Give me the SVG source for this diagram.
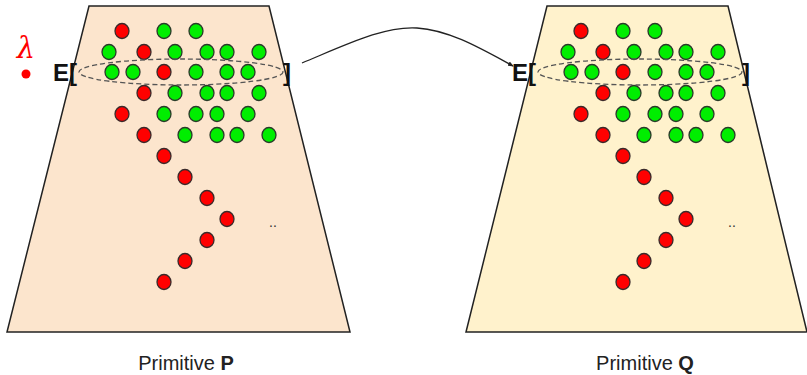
<svg xmlns="http://www.w3.org/2000/svg" width="807" height="375" viewBox="0 0 807 375">
  <style>
    .trap { stroke: #222; stroke-width: 1.5; }
    .r { fill: #ff0000; stroke: #3a2a2a; stroke-width: 1.3; }
    .g { fill: #00ee00; stroke: #2a3a2a; stroke-width: 1.3; }
    .ring { fill: none; stroke: #555; stroke-width: 1.3; stroke-dasharray: 5 3; }
    .br { font-family: "Liberation Sans", Arial, sans-serif; font-weight: bold; font-size: 24px; fill: #111; }
    .lbl { font-family: "Liberation Sans", Arial, sans-serif; font-size: 20px; fill: #222; }
    .dots { font-family: "Liberation Sans", Arial, sans-serif; font-size: 14px; fill: #333; }
  </style>
  <defs>
    <marker id="arr" markerWidth="6" markerHeight="6" refX="5" refY="3" orient="auto" markerUnits="userSpaceOnUse">
      <path d="M0,0.5 L6,3 L0,5.5 z" fill="#222"/>
    </marker>
    <g id="pattern">
      <!-- rows of samples -->
      <ellipse class="r" cx="122" cy="31" rx="7" ry="7.5"/>
      <ellipse class="g" cx="164" cy="31" rx="7" ry="7.5"/>
      <ellipse class="g" cx="196" cy="31" rx="7" ry="7.5"/>

      <ellipse class="g" cx="109" cy="52" rx="7" ry="7.5"/>
      <ellipse class="r" cx="144" cy="52" rx="7" ry="7.5"/>
      <ellipse class="g" cx="175" cy="52" rx="7" ry="7.5"/>
      <ellipse class="g" cx="207" cy="52" rx="7" ry="7.5"/>
      <ellipse class="g" cx="227" cy="52" rx="7" ry="7.5"/>
      <ellipse class="g" cx="259" cy="52" rx="7" ry="7.5"/>

      <ellipse class="g" cx="112" cy="72" rx="7" ry="7.5"/>
      <ellipse class="g" cx="133" cy="72" rx="7" ry="7.5"/>
      <ellipse class="r" cx="164" cy="72" rx="7" ry="7.5"/>
      <ellipse class="g" cx="196" cy="72" rx="7" ry="7.5"/>
      <ellipse class="g" cx="227" cy="72" rx="7" ry="7.5"/>
      <ellipse class="g" cx="248" cy="72" rx="7" ry="7.5"/>

      <ellipse class="r" cx="144" cy="93" rx="7" ry="7.5"/>
      <ellipse class="g" cx="175" cy="93" rx="7" ry="7.5"/>
      <ellipse class="g" cx="207" cy="93" rx="7" ry="7.5"/>
      <ellipse class="g" cx="227" cy="93" rx="7" ry="7.5"/>
      <ellipse class="g" cx="259" cy="93" rx="7" ry="7.5"/>

      <ellipse class="r" cx="122" cy="114" rx="7" ry="7.5"/>
      <ellipse class="g" cx="164" cy="114" rx="7" ry="7.5"/>
      <ellipse class="g" cx="196" cy="114" rx="7" ry="7.5"/>
      <ellipse class="g" cx="217" cy="114" rx="7" ry="7.5"/>
      <ellipse class="g" cx="248" cy="114" rx="7" ry="7.5"/>

      <ellipse class="r" cx="144" cy="135" rx="7" ry="7.5"/>
      <ellipse class="g" cx="185" cy="135" rx="7" ry="7.5"/>
      <ellipse class="g" cx="217" cy="135" rx="7" ry="7.5"/>
      <ellipse class="g" cx="237" cy="135" rx="7" ry="7.5"/>
      <ellipse class="g" cx="269" cy="135" rx="7" ry="7.5"/>

      <!-- red tail -->
      <ellipse class="r" cx="164" cy="156" rx="7" ry="7.5"/>
      <ellipse class="r" cx="185" cy="177" rx="7" ry="7.5"/>
      <ellipse class="r" cx="207" cy="198" rx="7" ry="7.5"/>
      <ellipse class="r" cx="227" cy="219" rx="7" ry="7.5"/>
      <ellipse class="r" cx="207" cy="240" rx="7" ry="7.5"/>
      <ellipse class="r" cx="185" cy="261" rx="7" ry="7.5"/>
      <ellipse class="r" cx="164" cy="282" rx="7" ry="7.5"/>

      <text class="dots" x="269" y="227">..</text>

      <!-- expectation bracket -->
      <ellipse class="ring" cx="181" cy="72" rx="102" ry="13"/>
      <text class="br" x="53" y="81">E[</text>
      <text class="br" x="283" y="81">]</text>
    </g>
  </defs>

  <g id="primitive-p">
    <path class="trap" d="M89,6 L269,6 L350,332 L7,332 Z" fill="#fce5cd"/>
    <use href="#pattern"/>
    <text class="lbl" x="186" y="370" text-anchor="middle">Primitive <tspan font-weight="bold">P</tspan></text>
  </g>

  <g id="lambda">
    <text x="26" y="58" text-anchor="middle" font-family="'DejaVu Serif', 'Liberation Serif', serif" font-style="italic" font-size="29" fill="#ff0000">λ</text>
    <circle cx="26" cy="74" r="4.5" fill="#ff0000"/>
  </g>

  <g id="primitive-q">
    <path class="trap" d="M547,6 L728,6 L807,332 L466,332 Z" fill="#fff2cc"/>
    <use href="#pattern" transform="translate(459,0)"/>
    <text class="lbl" x="645" y="370" text-anchor="middle">Primitive <tspan font-weight="bold">Q</tspan></text>
  </g>

  <g id="connectors">
    <path d="M302,63 C350,43 385,26 417,28 S480,48 513,66" fill="none" stroke="#222" stroke-width="1.3" marker-end="url(#arr)"/>
  </g>
</svg>
